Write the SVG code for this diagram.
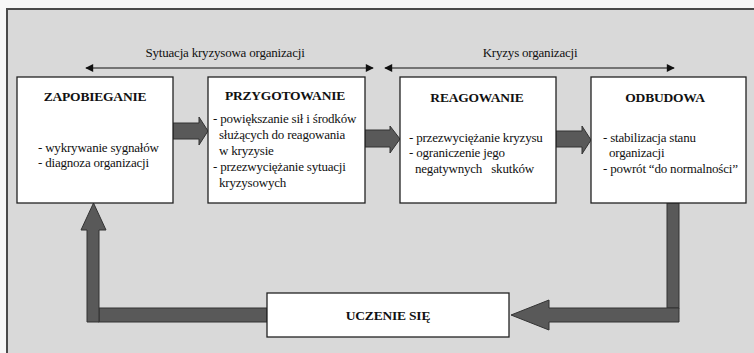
<svg xmlns="http://www.w3.org/2000/svg" width="754" height="353" viewBox="0 0 754 353">
<defs>
<style>
.t{font-size:13px;fill:#111;letter-spacing:-0.2px;}
.h{font-size:13.5px;font-weight:bold;fill:#111;letter-spacing:-0.2px;}
.box{fill:#fff;stroke:#222;stroke-width:1.3;}
.arr{fill:#595959;stroke:#333;stroke-width:1;}
.ln{stroke:#111;stroke-width:1.2;fill:none;}
</style>
<marker id="ah" viewBox="0 0 10 10" refX="9" refY="5" markerWidth="9" markerHeight="8" markerUnits="userSpaceOnUse" orient="auto-start-reverse">
<path d="M0,0 L10,5 L0,10 z" fill="#111"/>
</marker>
</defs>
<rect x="0" y="0" width="754" height="353" fill="#f7f7f7"/>
<rect x="7" y="9" width="760" height="360" fill="#d9d9d9" stroke="#4a4a4a" stroke-width="2"/>
<g font-family="'Liberation Serif', 'DejaVu Serif', 'Times New Roman', serif">
<g id="phase-labels">
<text class="t" x="225" y="57" text-anchor="middle" font-size="14">Sytuacja kryzysowa organizacji</text>
<line class="ln" x1="86" y1="68" x2="373" y2="68" marker-start="url(#ah)" marker-end="url(#ah)"/>
<text class="t" x="530" y="57" text-anchor="middle" font-size="14">Kryzys organizacji</text>
<line class="ln" x1="385" y1="68" x2="674" y2="68" marker-start="url(#ah)" marker-end="url(#ah)"/>
</g>

<g id="connectors">
<path class="arr" d="M173,123 H199 V117 L208,131 L199,145 V139 H173 Z"/>
<path class="arr" d="M365,130 H390 V126 L400,139 L390,153 V147 H365 Z"/>
<path class="arr" d="M556,131 H582 V126 L591,140 L582,154 V147 H556 Z"/>
<rect class="arr" x="667" y="203" width="12" height="105"/>
<path class="arr" d="M679,308 V322 H549 V330 L511,315 L549,300 V308 Z"/>
<rect class="arr" x="99" y="308" width="168" height="14"/>
<path class="arr" d="M87,322 V230 H81 L93.5,203 L106,230 H99 V322 Z"/>
</g>

<g id="zapobieganie">
<rect class="box" x="17" y="77" width="156" height="126"/>
<text class="h" x="95" y="101" text-anchor="middle">ZAPOBIEGANIE</text>
<text class="t" x="38" y="152">- wykrywanie sygnałów</text>
<text class="t" x="38" y="167">- diagnoza organizacji</text>
</g>

<g id="przygotowanie">
<rect class="box" x="208" y="77" width="157" height="126"/>
<text class="h" x="285" y="100" text-anchor="middle">PRZYGOTOWANIE</text>
<text class="t" x="213" y="123">- powiększanie sił i środków</text>
<text class="t" x="219" y="139">służących do reagowania</text>
<text class="t" x="219" y="155">w kryzysie</text>
<text class="t" x="213" y="171">- przezwyciężanie sytuacji</text>
<text class="t" x="219" y="187">kryzysowych</text>
</g>

<g id="reagowanie">
<rect class="box" x="400" y="77" width="156" height="126"/>
<text class="h" x="477" y="102" text-anchor="middle">REAGOWANIE</text>
<text class="t" x="409" y="142">- przezwyciężanie kryzysu</text>
<text class="t" x="409" y="157">- ograniczenie jego</text>
<text class="t" x="415" y="173" style="white-space:pre">negatywnych   skutków</text>
</g>

<g id="odbudowa">
<rect class="box" x="591" y="77" width="155" height="126"/>
<text class="h" x="665" y="102" text-anchor="middle">ODBUDOWA</text>
<text class="t" x="603" y="142">- stabilizacja stanu</text>
<text class="t" x="609" y="157">organizacji</text>
<text class="t" x="603" y="173">- powrót “do normalności”</text>
</g>

<g id="uczenie">
<rect class="box" x="267" y="293" width="242" height="44"/>
<text class="h" x="388" y="320" text-anchor="middle">UCZENIE SIĘ</text>
</g>
</g>
</svg>
